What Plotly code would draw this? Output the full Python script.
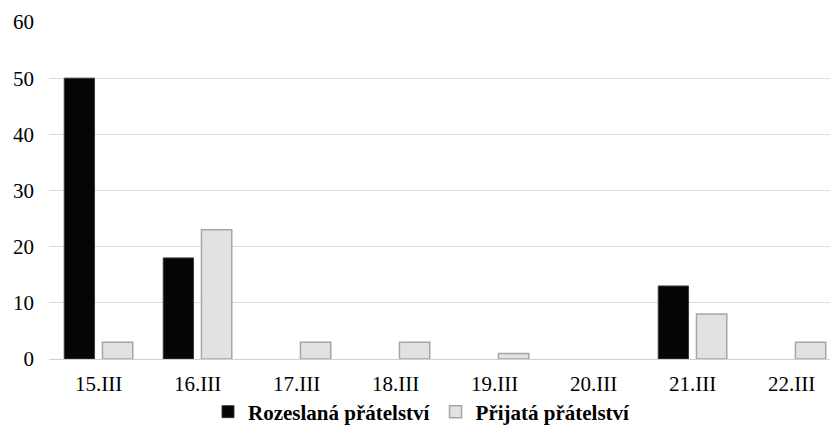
import plotly.graph_objects as go

categories = ["15.III", "16.III", "17.III", "18.III", "19.III", "20.III", "21.III", "22.III"]
rozeslana = [50, 18, 0, 0, 0, 0, 13, 0]
prijata = [3, 23, 3, 3, 1, 0, 8, 3]
y_ticks = [0, 10, 20, 30, 40, 50, 60]

W, H = 830, 435
L, R, T, B = 49, 0, 22, 76
px_per_cat = 99.0
plot_w = W - L - R
SERIF = "Liberation Serif"

fig = go.Figure()
fig.add_trace(go.Bar(
    x=categories, y=rozeslana, name="Rozeslaná přátelství",
    marker=dict(color="#050505",
                line=dict(color="#3a3a3a", width=[1 if v > 0 else 0 for v in rozeslana])),
))
fig.add_trace(go.Bar(
    x=categories, y=prijata, name="Přijatá přátelství",
    marker=dict(color="#e2e2e2",
                line=dict(color="#a6a6a6", width=[1.5 if v > 0 else 0 for v in prijata])),
))

fig.update_layout(
    width=W, height=H,
    margin=dict(l=L, r=R, t=T, b=B, pad=0, autoexpand=False),
    paper_bgcolor="white", plot_bgcolor="white",
    barmode="group", bargap=0.228, bargroupgap=0.207,
    font=dict(family=SERIF, size=21, color="#000000"),
    showlegend=True,
    legend=dict(
        orientation="h", x=(422 - L) / plot_w, xanchor="center",
        y=(359 - 412) / (H - T - B), yanchor="middle",
        font=dict(family=SERIF, size=21, color="#000000", weight="bold"),
        itemwidth=30, traceorder="normal", bgcolor="rgba(0,0,0,0)",
    ),
    xaxis=dict(
        type="category", range=[-0.5, -0.5 + plot_w / px_per_cat],
        showgrid=False, showline=False, zeroline=False, ticks="", automargin=False,
        ticklabelstandoff=10,
        tickfont=dict(family=SERIF, size=21),
    ),
    yaxis=dict(
        range=[0, 60], tickvals=y_ticks, showgrid=True, gridcolor="#dcdcdc", gridwidth=1,
        zeroline=True, zerolinecolor="#d0d0d0", zerolinewidth=1, automargin=False,
        showline=False, ticks="", ticklabelstandoff=14,
        tickfont=dict(family=SERIF, size=21),
    ),
)

fig.write_html("out.html", config={"displayModeBar": False},
               post_script="document.body.style.margin='0';")
